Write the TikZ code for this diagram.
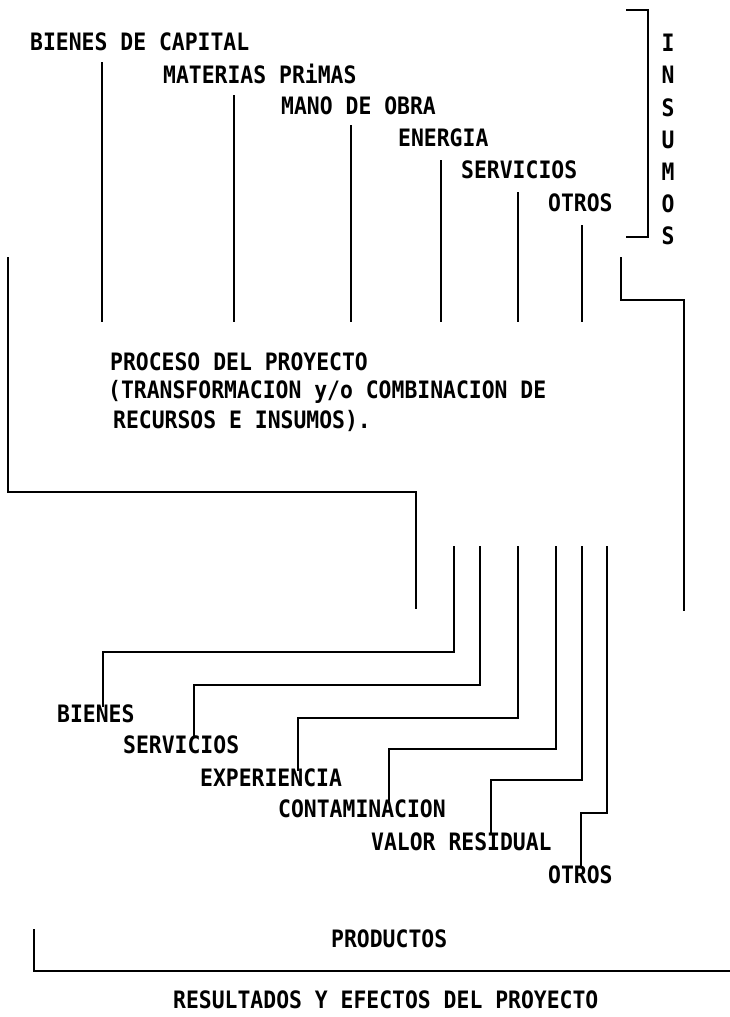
\documentclass[tikz,border=0pt]{standalone}
\usepackage{fontspec}
\usepackage{graphicx}
\newfontfamily\typ{DejaVu Sans Mono}
\newcommand\vtx[1]{\scalebox{1}[1.12]{#1}}
\begin{document}
\begin{tikzpicture}[x=1pt,y=-1pt,
  wire/.style={line width=2.2pt, line cap=butt, line join=miter},
  lbl/.style={anchor=west, inner sep=0pt, font=\typ\bfseries\fontsize{21.4}{24}\selectfont},
  letter/.style={anchor=center, inner sep=0pt, font=\typ\bfseries\fontsize{21.4}{24}\selectfont}]
\useasboundingbox[fill=white] (0,0) rectangle (730,1017);

% ---------- INSUMOS ----------
\node[lbl] (i1) at (30,42)  {\vtx{BIENES DE CAPITAL}};
\node[lbl] (i2) at (163,74) {\vtx{MATERIAS PRiMAS}};
\node[lbl] (i3) at (281,106) {\vtx{MANO DE OBRA}};
\node[lbl] (i4) at (398,138) {\vtx{ENERGIA}};
\node[lbl] (i5) at (461,170) {\vtx{SERVICIOS}};
\node[lbl] (i6) at (548,203) {\vtx{OTROS}};

\coordinate (a1) at (102,62);  \coordinate (b1) at (102,322);
\coordinate (a2) at (234,95);  \coordinate (b2) at (234,322);
\coordinate (a3) at (351,125); \coordinate (b3) at (351,322);
\coordinate (a4) at (441,160); \coordinate (b4) at (441,322);
\coordinate (a5) at (518,192); \coordinate (b5) at (518,322);
\coordinate (a6) at (582,225); \coordinate (b6) at (582,322);
\foreach \k in {1,...,6} \draw[wire] (a\k) -- (b\k);

% bracket
\coordinate (br1) at (626,10);
\coordinate (br2) at (648,10);
\coordinate (br3) at (648,237);
\coordinate (br4) at (626,237);
\draw[wire] (br1) -- (br2) -- (br3) -- (br4);

\foreach \c [count=\k from 0] in {I,N,S,U,M,O,S}
  \node[letter] (ins\k) at (668,43+32.2*\k) {\vtx{\c}};

% ---------- side lines ----------
\coordinate (l1) at (8,257);
\coordinate (l2) at (416,492);
\coordinate (l3) at (416,609);
\draw[wire] (l1) |- (l2) -- (l3);

\coordinate (r1) at (621,257);
\coordinate (r2) at (684,300);
\coordinate (r3) at (684,611);
\draw[wire] (r1) |- (r2) -- (r3);

% ---------- PROCESO ----------
\node[lbl] (p1) at (110,362) {\vtx{PROCESO DEL PROYECTO}};
\node[lbl] (p2) at (108,392) {\vtx{(TRANSFORMACION y/o COMBINACION DE}};
\node[lbl] (p3) at (113,421) {\vtx{RECURSOS E INSUMOS).}};

% ---------- PRODUCTOS ----------
\node[lbl] (o1) at (57,714)  {\vtx{BIENES}};
\node[lbl] (o2) at (123,745) {\vtx{SERVICIOS}};
\node[lbl] (o3) at (200,778) {\vtx{EXPERIENCIA}};
\node[lbl] (o4) at (278,809) {\vtx{CONTAMINACION}};
\node[lbl] (o5) at (371,842) {\vtx{VALOR RESIDUAL}};
\node[lbl] (o6) at (548,875) {\vtx{OTROS}};

\coordinate (t1) at (454,546); \coordinate (k1) at (103,652);
\coordinate (t2) at (480,546); \coordinate (k2) at (194,685);
\coordinate (t3) at (518,546); \coordinate (k3) at (298,718);
\coordinate (t4) at (556,546); \coordinate (k4) at (389,749);
\coordinate (t5) at (582,546); \coordinate (k5) at (491,780);
\coordinate (t6) at (607,546); \coordinate (k6) at (581,813);
\foreach \k in {1,...,6}
  \draw[wire] (t\k) |- (k\k) -- ([yshift=-2pt]k\k |- o\k.north);

\node[lbl] (prod) at (331,939) {\vtx{PRODUCTOS}};
\coordinate (bb1) at (34,929);
\coordinate (bb2) at (730,971);
\draw[wire] (bb1) |- (bb2);

\node[lbl] (res) at (173,1000) {\vtx{RESULTADOS Y EFECTOS DEL PROYECTO}};
\end{tikzpicture}
\end{document}
